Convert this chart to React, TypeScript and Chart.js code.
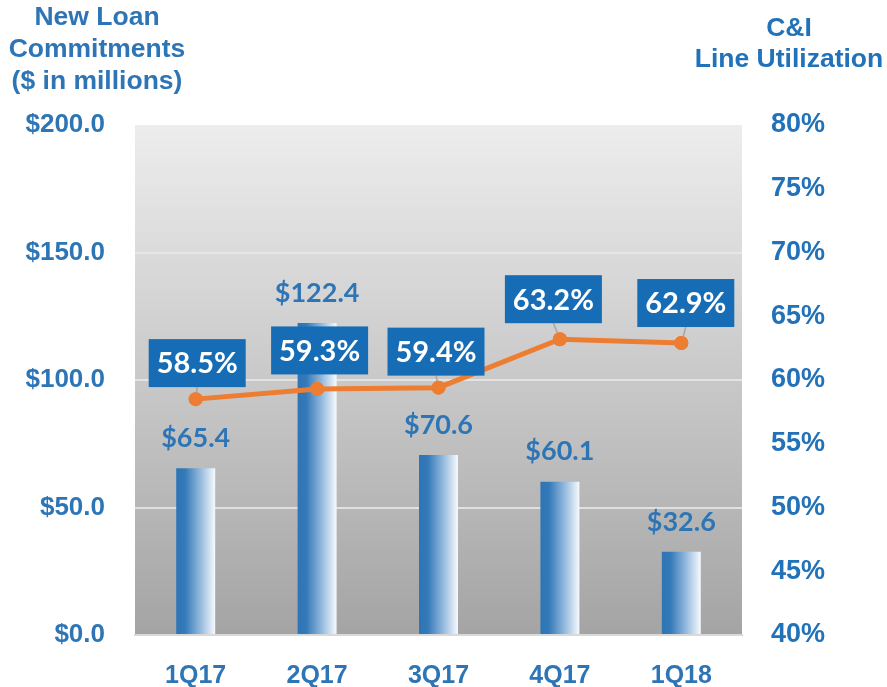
import React, { useEffect, useRef } from "react";
import { Chart, registerables } from "chart.js";

Chart.register(...registerables);

const categories = ["1Q17", "2Q17", "3Q17", "4Q17", "1Q18"];
const loanCommitments = [65.4, 122.4, 70.6, 60.1, 32.6];
const lineUtilization = [58.5, 59.3, 59.4, 63.2, 62.9];
const leftTicks = [0, 50, 100, 150, 200];
const rightTicks = [40, 45, 50, 55, 60, 65, 70, 75, 80];

// label box offsets (layout only): box centre relative to the point
const boxDx = [1.5, 2.5, -2.5, -6.5, 4.5];
const boxDy = [-36, -38.5, -36, -40, -40];

const BLUE = "#2e75b6";
const BOX_BLUE = "#176db5";
const ORANGE = "#ed7d31";
const ARIAL = "'Liberation Sans', Arial, sans-serif";

const bgPlugin = {
  id: "bgPlugin",
  beforeDraw(chart: any) {
    const { ctx, chartArea } = chart;
    const g = ctx.createLinearGradient(0, chartArea.top, 0, chartArea.bottom);
    g.addColorStop(0, "#ededed");
    g.addColorStop(1, "#a4a4a4");
    ctx.save();
    ctx.fillStyle = g;
    ctx.fillRect(chartArea.left, chartArea.top, chartArea.right - chartArea.left, chartArea.bottom - chartArea.top);
    ctx.restore();
  },
  beforeDatasetsDraw(chart: any) {
    const { ctx } = chart;
    const meta = chart.getDatasetMeta(1);
    meta.data.forEach((el: any) => {
      const w = el.width;
      const g = ctx.createLinearGradient(el.x - w / 2, 0, el.x + w / 2, 0);
      g.addColorStop(0, "#2e75b6");
      g.addColorStop(0.22, "#3479b8");
      g.addColorStop(0.6, "#8fb6dc");
      g.addColorStop(1, "#f7fafd");
      el.options = Object.assign({}, el.options, { backgroundColor: g });
    });
  },
  afterDatasetsDraw(chart: any) {
    const { ctx } = chart;
    const barMeta = chart.getDatasetMeta(1);
    const lineMeta = chart.getDatasetMeta(0);
    ctx.save();
    ctx.textAlign = "center";
    ctx.textBaseline = "middle";
    // bar value labels
    ctx.font = "bold 27px Lato, 'Open Sans', sans-serif";
    ctx.fillStyle = BLUE;
    barMeta.data.forEach((el: any, i: number) => {
      ctx.fillText("$" + loanCommitments[i].toFixed(1), el.x, el.y - 30);
    });
    // percent boxes
    const bw = 97;
    const bh = 48;
    lineMeta.data.forEach((el: any, i: number) => {
      const cx = el.x + boxDx[i];
      const cy = el.y + boxDy[i];
      ctx.strokeStyle = "#a6a6a6";
      ctx.lineWidth = 1.5;
      ctx.beginPath();
      ctx.moveTo(cx, cy + bh / 2);
      ctx.lineTo(el.x, el.y);
      ctx.stroke();
    });
    lineMeta.data.forEach((el: any) => {
      ctx.fillStyle = ORANGE;
      ctx.beginPath();
      ctx.arc(el.x, el.y, 7, 0, Math.PI * 2);
      ctx.fill();
    });
    lineMeta.data.forEach((el: any, i: number) => {
      const cx = el.x + boxDx[i];
      const cy = el.y + boxDy[i];
      ctx.fillStyle = BOX_BLUE;
      ctx.fillRect(cx - bw / 2, cy - bh / 2, bw, bh);
      ctx.fillStyle = "#ffffff";
      ctx.font = "bold 29px Lato, 'Open Sans', sans-serif";
      ctx.fillText(lineUtilization[i].toFixed(1) + "%", cx, cy + 1);
    });
    ctx.restore();
  },
};

export default function App() {
  const ref = useRef<HTMLCanvasElement | null>(null);
  useEffect(() => {
    if (!ref.current) return;
    const chart = new Chart(ref.current, {
      data: {
        labels: categories,
        datasets: [
          {
            type: "line",
            data: lineUtilization,
            yAxisID: "y1",
            borderColor: ORANGE,
            borderWidth: 5,
            pointRadius: 7,
            pointBackgroundColor: ORANGE,
            pointBorderWidth: 0,
            order: 0,
          } as any,
          {
            type: "bar",
            data: loanCommitments,
            yAxisID: "y",
            backgroundColor: () => BLUE,
            barPercentage: 0.321,
            categoryPercentage: 1,
            order: 1,
          } as any,
        ],
      },
      options: {
        animation: false,
        responsive: true,
        maintainAspectRatio: false,
        layout: { padding: { top: 125, left: 0, right: 0, bottom: 0 } },
        plugins: { legend: { display: false }, tooltip: { enabled: false } },
        scales: {
          x: {
            grid: { display: false, drawTicks: false },
            border: { display: true, color: "#d9d9d9", width: 2 },
            ticks: {
              color: BLUE,
              padding: 26,
              font: { family: ARIAL, size: 25, weight: "bold" },
            },
            afterFit(s: any) {
              s.height = 52;
            },
          },
          y: {
            position: "left",
            min: 0,
            max: 200,
            afterBuildTicks(s: any) {
              s.ticks = leftTicks.map((v) => ({ value: v }));
            },
            grid: {
              drawTicks: false,
              lineWidth: 2,
              color: (c: any) => (c.tick && (c.tick.value === 0 || c.tick.value === 200) ? "rgba(0,0,0,0)" : "rgba(232,232,232,0.85)"),
            },
            border: { display: false },
            ticks: {
              color: BLUE,
              padding: 30,
              callback: (v: any) => "$" + Number(v).toFixed(1),
              font: { family: ARIAL, size: 26, weight: "bold" },
            },
            afterFit(s: any) {
              s.width = 135;
            },
          },
          y1: {
            position: "right",
            min: 40,
            max: 80,
            afterBuildTicks(s: any) {
              s.ticks = rightTicks.map((v) => ({ value: v }));
            },
            grid: { display: false, drawTicks: false },
            border: { display: false },
            ticks: {
              color: "#2272b9",
              padding: 29,
              callback: (v: any) => v + "%",
              font: { family: ARIAL, size: 27, weight: "bold" },
            },
            afterFit(s: any) {
              s.width = 145;
            },
          },
        },
      } as any,
      plugins: [bgPlugin],
    });
    return () => chart.destroy();
  }, []);

  const titleFont = "bold 26.5px 'Liberation Sans', Arial, sans-serif";
  return (
    <div style={{ position: "absolute", left: 0, top: 0, width: 887, height: 687, background: "#fff" }}>
      <canvas ref={ref} />
      <div
        style={{
          position: "absolute",
          left: 0,
          width: 194,
          top: 0,
          font: titleFont,
          lineHeight: "32px",
          color: BLUE,
          textAlign: "center",
        }}
      >
        New Loan
        <br />
        Commitments
        <br />
        ($ in millions)
      </div>
      <div
        style={{
          position: "absolute",
          left: 689,
          width: 200,
          top: 12,
          font: titleFont,
          lineHeight: "31px",
          color: "#2272b9",
          textAlign: "center",
        }}
      >
        C&amp;I
        <br />
        Line Utilization
      </div>
    </div>
  );
}
